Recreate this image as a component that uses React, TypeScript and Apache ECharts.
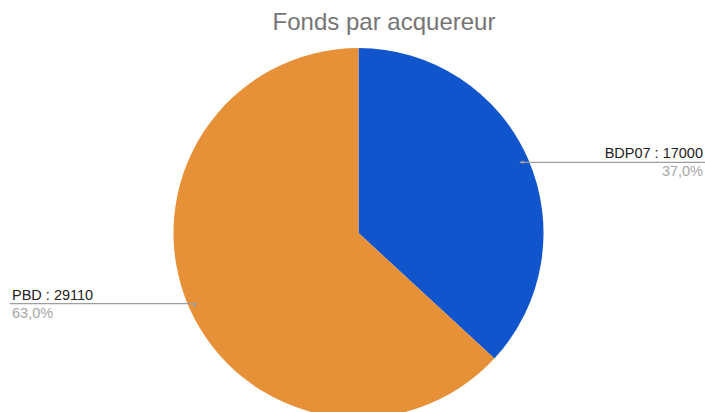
import React, { useEffect, useRef } from "react";
import * as echarts from "echarts";

const TITLE = "Fonds par acquereur";
const categories = ["BDP07", "PBD"];
const values = [17000, 29110];
const colors = ["#1155CC", "#E69138"];

const W = 705;
const H = 412;
const CX = 358.5;
const CY = 233;
const R = 185;
const R_ANCHOR = 176;

export default function App() {
  const ref = useRef<HTMLDivElement>(null);
  useEffect(() => {
    if (!ref.current) return;
    const chart = echarts.init(ref.current, null, { renderer: "svg" });
    const font = "'Liberation Sans', Arial, sans-serif";
    const base = {
      type: "pie",
      center: [CX, CY],
      startAngle: 90,
      clockwise: true,
      percentPrecision: 0,
      left: 0,
      top: 0,
      width: W,
      height: H,
    };
    const data = categories.map((name, i) => ({ name, value: values[i] }));
    chart.setOption({
      animation: false,
      backgroundColor: "#ffffff",
      title: {
        text: TITLE,
        left: 379,
        top: 4,
        textAlign: "center",
        textStyle: {
          fontFamily: font,
          fontSize: 24,
          fontWeight: "normal",
          color: "#757575",
        },
      },
      series: [
        {
          ...base,
          z: 1,
          zlevel: 0,
          radius: R,
          itemStyle: { borderWidth: 0 },
          label: { show: false },
          labelLine: { show: false },
          data: data.map((d, i) => ({ ...d, itemStyle: { color: colors[i] } })),
        },
        {
          ...base,
          z: 5,
          zlevel: 1,
          radius: R_ANCHOR,
          silent: true,
          itemStyle: { color: "rgba(0,0,0,0)", borderWidth: 0 },
          label: {
            show: true,
            position: "outside",
            alignTo: "edge",
            edgeDistance: 2,
            fontFamily: font,
            formatter: (p: any) =>
              `{a|${p.name} : ${p.value}}\n{b|${Number(p.percent)
                .toFixed(1)
                .replace(".", ",")}%}`,
            rich: {
              a: { fontFamily: font, fontSize: 14.5, color: "#222222", lineHeight: 18 },
              b: { fontFamily: font, fontSize: 14.5, color: "#a6a6a6", lineHeight: 18 },
            },
          },
          labelLine: {
            show: true,
            length: 0,
            length2: 10,
            lineStyle: { color: "#9e9e9e", width: 1.2 },
          },
          labelLayout: (p: any) => {
            const pts = p.labelLinePoints;
            if (!pts || !pts.length) return {};
            const s = pts[0];
            const endX = s[0] > CX ? W : 10;
            return {
              labelLinePoints: [s, [s[0], s[1]], [endX, s[1]]],
            };
          },
          data: data.map((d, i) => ({
            ...d,
            label: { edgeDistance: i === 0 ? 2 : 12 },
          })),
        },
        {
          ...base,
          z: 6,
          zlevel: 1,
          radius: [R_ANCHOR - 4, R_ANCHOR + 4],
          silent: true,
          itemStyle: { color: "rgba(0,0,0,0)", borderWidth: 0 },
          label: {
            show: true,
            position: "inside",
            formatter: "●",
            fontSize: 7,
            color: "#9e9e9e",
          },
          labelLine: { show: false },
          data,
        },
      ],
    });
    return () => chart.dispose();
  }, []);
  return (
    <div
      ref={ref}
      style={{ position: "fixed", left: 0, top: 0, width: W, height: H }}
    />
  );
}
